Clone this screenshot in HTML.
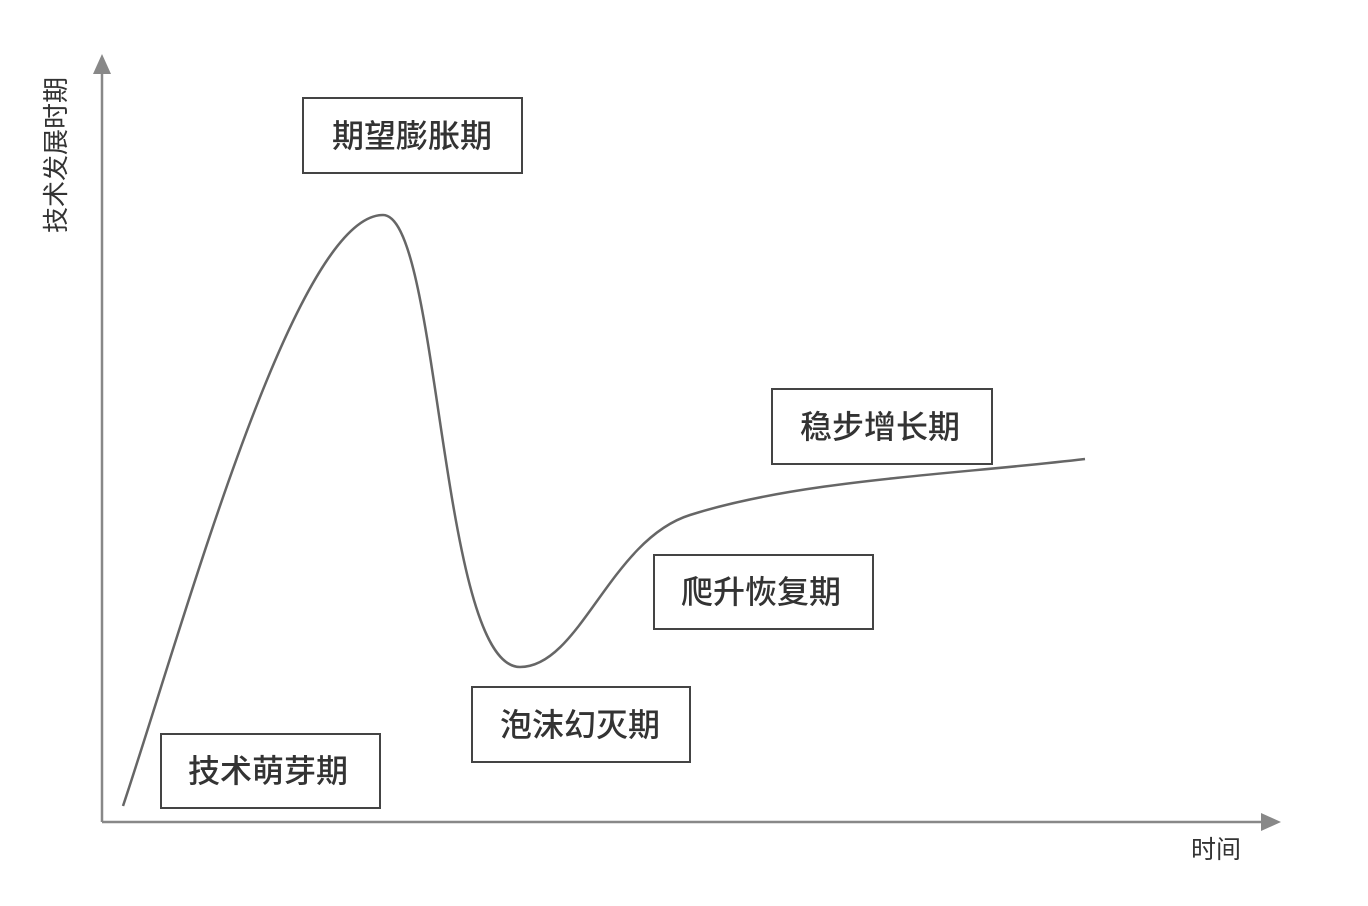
<!DOCTYPE html>
<html><head><meta charset="utf-8"><style>
body{margin:0;background:#fff;}
svg{display:block}
text{font-family:"Liberation Sans","Noto Sans CJK SC",sans-serif;fill:#333;}
</style></head><body>
<svg width="1368" height="906" viewBox="0 0 1368 906">
<g stroke="#888" stroke-width="2.5" fill="none">
<line x1="102" y1="70" x2="102" y2="822"/>
<line x1="102" y1="822" x2="1265" y2="822"/>
</g>
<polygon points="102,54 93,74 111,74" fill="#888"/>
<polygon points="1281,822 1261,813 1261,831" fill="#888"/>
<path d="M123,806 C185,620 295,215 383,215 C440,215 440,667 520,667 C580,667 610,540 690,515 C800,480 950,475 1085,459" stroke="#666" stroke-width="2.5" fill="none"/>
<g stroke="#444" stroke-width="2" fill="#fff">
<rect x="303" y="98" width="219" height="75"/>
<rect x="772" y="389" width="220" height="75"/>
<rect x="654" y="555" width="219" height="74"/>
<rect x="472" y="687" width="218" height="75"/>
<rect x="161" y="734" width="219" height="74"/>
</g>
<g font-size="32" text-anchor="middle" font-weight="500">
<text x="412" y="147">期望膨胀期</text>
<text x="880" y="438">稳步增长期</text>
<text x="761" y="603">爬升恢复期</text>
<text x="580" y="736">泡沫幻灭期</text>
<text x="268" y="782">技术萌芽期</text>
</g>
<text x="1216" y="858" font-size="25" text-anchor="middle">时间</text>
<text transform="translate(65,155) rotate(-90)" font-size="26" text-anchor="middle">技术发展时期</text>
</svg>
</body></html>
